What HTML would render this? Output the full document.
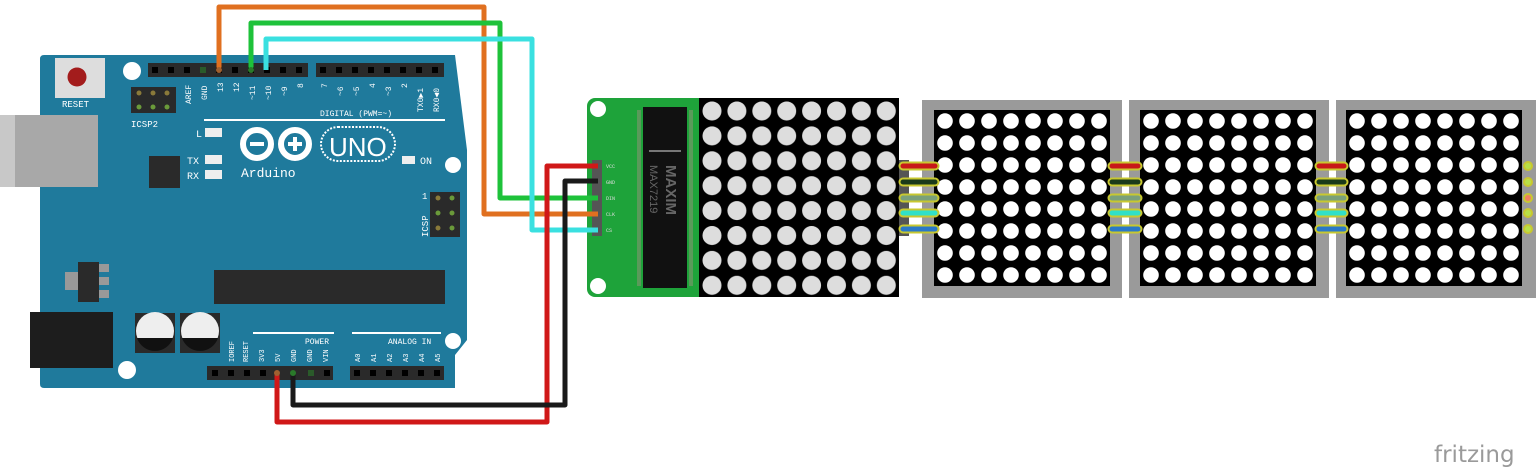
<!DOCTYPE html>
<html><head><meta charset="utf-8"><style>
html,body{margin:0;padding:0;background:#fff;}
svg{display:block;font-family:"Liberation Mono",monospace;}
</style></head><body>
<svg width="1536" height="468" viewBox="0 0 1536 468" xmlns="http://www.w3.org/2000/svg">
<defs>
<pattern id="gdot" x="699.5" y="98.5" width="24.9" height="24.9" patternUnits="userSpaceOnUse">
<circle cx="12.5" cy="12.5" r="9.5" fill="#ddd"/></pattern>
<pattern id="wdot" x="934" y="110" width="22" height="22" patternUnits="userSpaceOnUse">
<circle cx="11" cy="11" r="7.8" fill="#fff"/></pattern>
<pattern id="wdot2" x="1140" y="110" width="22" height="22" patternUnits="userSpaceOnUse">
<circle cx="11" cy="11" r="7.8" fill="#fff"/></pattern>
<pattern id="wdot3" x="1346" y="110" width="22" height="22" patternUnits="userSpaceOnUse">
<circle cx="11" cy="11" r="7.8" fill="#fff"/></pattern>
</defs>

<!-- Arduino board -->
<path d="M44 55 H455 L467 150 V340 L455 355 V388 H44 Q40 388 40 384 V59 Q40 55 44 55Z" fill="#1f7a9c"/>
<rect x="0" y="115" width="98" height="72" fill="#bdbdbd"/>
<rect x="15" y="115" width="83" height="72" fill="#a8a8a8"/>
<rect x="0" y="115" width="15" height="72" fill="#c8c8c8"/>
<rect x="30" y="312" width="83" height="56" fill="#1d1d1d"/>
<rect x="55" y="58" width="50" height="40" fill="#ddd"/>
<circle cx="77" cy="77" r="9.5" fill="#a31c1c"/>
<text x="62" y="107" font-size="9" fill="#fff">RESET</text>
<circle cx="132" cy="71" r="9" fill="#fff"/>
<circle cx="453" cy="165" r="8" fill="#fff"/>
<circle cx="453" cy="341" r="8" fill="#fff"/>
<circle cx="127" cy="370" r="9" fill="#fff"/>
<rect x="131" y="87" width="45" height="26" fill="#2a2a2a"/>
<g fill="#8a7a3a"><circle cx="139" cy="93" r="2.5"/><circle cx="153" cy="93" r="2.5"/><circle cx="167" cy="93" r="2.5"/></g>
<g fill="#6a9a3a"><circle cx="139" cy="107" r="2.5"/><circle cx="153" cy="107" r="2.5"/><circle cx="167" cy="107" r="2.5"/></g>
<text x="131" y="127" font-size="9" fill="#fff">ICSP2</text>
<!-- headers -->
<rect x="148" y="63" width="160" height="14" fill="#2a2a2a"/>
<rect x="316" y="63" width="128" height="14" fill="#2a2a2a"/>
<g fill="#000">
<rect x="152" y="67" width="6" height="6"/><rect x="168" y="67" width="6" height="6"/><rect x="184" y="67" width="6" height="6"/><rect x="200" y="67" width="6" height="6" fill="#2a5a2a"/><rect x="216" y="67" width="6" height="6"/><rect x="232" y="67" width="6" height="6"/><rect x="248" y="67" width="6" height="6"/><rect x="264" y="67" width="6" height="6"/><rect x="280" y="67" width="6" height="6"/><rect x="296" y="67" width="6" height="6"/>
<rect x="320" y="67" width="6" height="6"/><rect x="336" y="67" width="6" height="6"/><rect x="352" y="67" width="6" height="6"/><rect x="368" y="67" width="6" height="6"/><rect x="384" y="67" width="6" height="6"/><rect x="400" y="67" width="6" height="6"/><rect x="416" y="67" width="6" height="6"/><rect x="432" y="67" width="6" height="6"/>
</g>
<g font-size="8" fill="#fff">
<text transform="translate(191,104) rotate(-90)">AREF</text>
<text transform="translate(207,100) rotate(-90)">GND</text>
<text transform="translate(223,92) rotate(-90)">13</text>
<text transform="translate(239,92) rotate(-90)">12</text>
<text transform="translate(255,100) rotate(-90)">~11</text>
<text transform="translate(271,100) rotate(-90)">~10</text>
<text transform="translate(287,96) rotate(-90)">~9</text>
<text transform="translate(303,88) rotate(-90)">8</text>
<text transform="translate(327,88) rotate(-90)">7</text>
<text transform="translate(343,96) rotate(-90)">~6</text>
<text transform="translate(359,96) rotate(-90)">~5</text>
<text transform="translate(375,88) rotate(-90)">4</text>
<text transform="translate(391,96) rotate(-90)">~3</text>
<text transform="translate(407,88) rotate(-90)">2</text>
<text transform="translate(423,112) rotate(-90)">TX0▶1</text>
<text transform="translate(439,112) rotate(-90)">RX0◀0</text>
</g>
<text x="320" y="116" font-size="8" fill="#fff">DIGITAL (PWM=~)</text>
<rect x="204" y="119" width="241" height="2" fill="#fff"/>
<text x="196" y="137" font-size="10" fill="#fff">L</text>
<rect x="205" y="128" width="17" height="9" fill="#eee"/>
<text x="187" y="164" font-size="10" fill="#fff">TX</text>
<rect x="205" y="155" width="17" height="9" fill="#eee"/>
<text x="187" y="179" font-size="10" fill="#fff">RX</text>
<rect x="205" y="170" width="17" height="9" fill="#eee"/>
<rect x="149" y="156" width="31" height="32" fill="#2a2a2a"/>
<!-- logo -->
<g fill="none" stroke="#fff" stroke-width="6">
<circle cx="257" cy="144" r="14"/><circle cx="295" cy="144" r="14"/></g>
<rect x="250" y="142" width="14" height="4" fill="#fff"/>
<rect x="288" y="142" width="14" height="4" fill="#fff"/><rect x="293" y="137" width="4" height="14" fill="#fff"/>
<rect x="321" y="127" width="74" height="34" rx="17" fill="none" stroke="#fff" stroke-width="2" stroke-dasharray="2 1.5"/>
<text x="329" y="156" font-size="26" fill="#fff" style="font-family:'Liberation Sans',sans-serif">UNO</text>
<text x="241" y="177" font-size="13" fill="#fff">Arduino</text>
<rect x="402" y="156" width="13" height="8" fill="#eee"/>
<text x="420" y="164" font-size="10" fill="#fff">ON</text>
<rect x="430" y="192" width="30" height="45" fill="#2a2a2a"/>
<g fill="#6a9a3a"><circle cx="438" cy="198" r="2.5" fill="#8a7a3a"/><circle cx="452" cy="198" r="2.5"/><circle cx="438" cy="213" r="2.5"/><circle cx="452" cy="213" r="2.5"/><circle cx="438" cy="228" r="2.5" fill="#8a7a3a"/><circle cx="452" cy="228" r="2.5"/></g>
<text x="422" y="199" font-size="9" fill="#fff">1</text>
<text transform="translate(428,237) rotate(-90)" font-size="9" fill="#fff">ICSP</text>
<rect x="65" y="272" width="14" height="18" fill="#999"/>
<rect x="78" y="262" width="21" height="40" fill="#2a2a2a"/>
<rect x="99" y="264" width="10" height="8" fill="#999"/><rect x="99" y="277" width="10" height="8" fill="#999"/><rect x="99" y="290" width="10" height="8" fill="#999"/>
<rect x="214" y="270" width="231" height="34" fill="#2a2a2a"/>
<rect x="135" y="313" width="40" height="40" fill="#2a2a2a"/><circle cx="155" cy="331" r="19" fill="#eee"/><path d="M137 338 A19 19 0 0 0 173 338Z" fill="#111"/>
<rect x="180" y="313" width="40" height="40" fill="#2a2a2a"/><circle cx="200" cy="331" r="19" fill="#eee"/><path d="M182 338 A19 19 0 0 0 218 338Z" fill="#111"/>
<rect x="253" y="332" width="81" height="2" fill="#fff"/><rect x="352" y="332" width="89" height="2" fill="#fff"/>
<text x="305" y="344" font-size="8" fill="#fff">POWER</text>
<text x="388" y="344" font-size="8" fill="#fff">ANALOG IN</text>
<g font-size="7" fill="#fff">
<text transform="translate(234,362) rotate(-90)">IOREF</text>
<text transform="translate(248,362) rotate(-90)">RESET</text>
<text transform="translate(264,362) rotate(-90)">3V3</text>
<text transform="translate(280,362) rotate(-90)">5V</text>
<text transform="translate(296,362) rotate(-90)">GND</text>
<text transform="translate(312,362) rotate(-90)">GND</text>
<text transform="translate(328,362) rotate(-90)">VIN</text>
<text transform="translate(360,362) rotate(-90)">A0</text>
<text transform="translate(376,362) rotate(-90)">A1</text>
<text transform="translate(392,362) rotate(-90)">A2</text>
<text transform="translate(408,362) rotate(-90)">A3</text>
<text transform="translate(424,362) rotate(-90)">A4</text>
<text transform="translate(440,362) rotate(-90)">A5</text>
</g>
<rect x="207" y="366" width="126" height="14" fill="#2a2a2a"/>
<rect x="350" y="366" width="94" height="14" fill="#2a2a2a"/>
<g fill="#000">
<rect x="212" y="370" width="6" height="6"/><rect x="228" y="370" width="6" height="6"/><rect x="244" y="370" width="6" height="6"/><rect x="260" y="370" width="6" height="6"/><rect x="308" y="370" width="6" height="6" fill="#2a5a2a"/><rect x="324" y="370" width="6" height="6"/>
<rect x="354" y="370" width="6" height="6"/><rect x="370" y="370" width="6" height="6"/><rect x="386" y="370" width="6" height="6"/><rect x="402" y="370" width="6" height="6"/><rect x="418" y="370" width="6" height="6"/><rect x="434" y="370" width="6" height="6"/>
</g>

<!-- green module -->
<rect x="587" y="98" width="120" height="199" rx="8" fill="#1ea33a"/>
<circle cx="598" cy="109" r="8" fill="#fff"/><circle cx="598" cy="286" r="8" fill="#fff"/>
<rect x="643" y="107" width="44" height="181" fill="#111"/>
<rect x="649" y="150" width="32" height="2" fill="#777"/>
<text transform="translate(666,165) rotate(90)" font-size="15" fill="#666" font-weight="bold" style="font-family:'Liberation Sans',sans-serif">MAXIM</text>
<text transform="translate(650,165) rotate(90)" font-size="11" fill="#666" style="font-family:'Liberation Sans',sans-serif">MAX7219</text>
<g fill="#5a9a5a"><rect x="637" y="110" width="4" height="176"/><rect x="689" y="110" width="4" height="176"/></g>
<rect x="699" y="98" width="200" height="199" fill="#000"/>
<rect x="699" y="98" width="200" height="199" fill="url(#gdot)"/>
<rect x="592" y="160" width="10" height="76" fill="#555"/>
<g font-size="5" fill="#ddd"><text x="606" y="168">VCC</text><text x="606" y="184">GND</text><text x="606" y="200">DIN</text><text x="606" y="216">CLK</text><text x="606" y="232">CS</text></g>
<rect x="899" y="160" width="10" height="76" fill="#555"/>

<!-- matrix modules -->
<rect x="922" y="100" width="200" height="198" fill="#9a9a9a"/>
<rect x="934" y="110" width="176" height="176" fill="#000"/>
<rect x="934" y="110" width="176" height="176" fill="url(#wdot)"/>
<rect x="1129" y="100" width="200" height="198" fill="#9a9a9a"/>
<rect x="1140" y="110" width="176" height="176" fill="#000"/>
<rect x="1140" y="110" width="176" height="176" fill="url(#wdot2)"/>
<rect x="1336" y="100" width="200" height="198" fill="#9a9a9a"/>
<rect x="1346" y="110" width="176" height="176" fill="#000"/>
<rect x="1346" y="110" width="176" height="176" fill="url(#wdot3)"/>

<!-- inter-module jumpers -->
<g stroke-linecap="round">
<g stroke="#c8c830" stroke-width="9">
<path d="M903 166H935M903 182H935M903 198H935M903 213H935M903 229H935"/>
<path d="M1112 166H1138M1112 182H1138M1112 198H1138M1112 213H1138M1112 229H1138"/>
<path d="M1319 166H1344M1319 182H1344M1319 198H1344M1319 213H1344M1319 229H1344"/>
</g>
<g stroke-width="5">
<path d="M903 166H935M1112 166H1138M1319 166H1344" stroke="#c81818"/>
<path d="M903 182H935M1112 182H1138M1319 182H1344" stroke="#1a3a1a"/>
<path d="M903 198H935M1112 198H1138M1319 198H1344" stroke="#7aa07a"/>
<path d="M903 213H935M1112 213H1138M1319 213H1344" stroke="#30e0c8"/>
<path d="M903 229H935M1112 229H1138M1319 229H1344" stroke="#2a78c8"/>
</g>
</g>
<g stroke="#c8c830" stroke-width="2"><circle cx="1528" cy="166" r="4" fill="#b8e048"/><circle cx="1528" cy="182" r="4" fill="#b8e048"/><circle cx="1528" cy="198" r="4" fill="#f08060"/><circle cx="1528" cy="213" r="4" fill="#b8e048"/><circle cx="1528" cy="229" r="4" fill="#b8e048"/></g>

<!-- wires -->
<g fill="none" stroke-width="5" stroke-linejoin="round">
<path d="M219 70V7H484V214H598" stroke="#e07020"/>
<path d="M251 70V23H500V198H598" stroke="#1ec23a"/>
<path d="M266 70V39H532V230H598" stroke="#3ae0e0"/>
<path d="M277 373V422H547V166H598" stroke="#d01818"/>
<path d="M293 373V405H565V181H598" stroke="#1a1a1a"/>
</g>
<g fill="#a06030"><circle cx="219" cy="70" r="3"/><circle cx="277" cy="373" r="3"/></g>
<g fill="#2a7a2a"><circle cx="251" cy="70" r="3"/><circle cx="293" cy="373" r="3"/></g>

<text x="1434" y="462" font-size="23" fill="#9a9a9a" style="font-family:'DejaVu Sans',sans-serif">fritzing</text>
</svg>
</body></html>
